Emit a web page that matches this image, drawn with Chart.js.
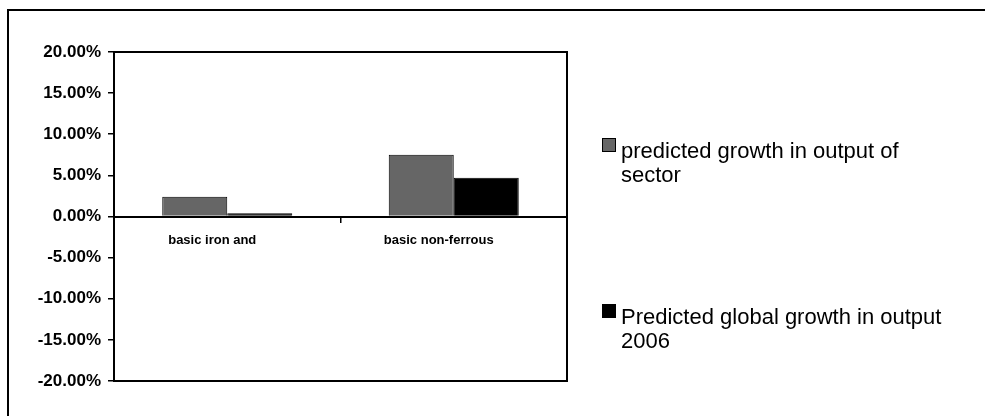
<!DOCTYPE html>
<html>
<head>
<meta charset="utf-8">
<script src="https://cdn.jsdelivr.net/npm/chart.js@4"></script>
<style>
  body { margin: 0; background: #fff; }
  canvas { display: block; }
</style>
</head>
<body>
<canvas id="growth-chart" width="985" height="416"></canvas>
<script>
const sectors = ['basic iron and', 'basic non-ferrous'];
const seriesNames = ['predicted growth in output of sector', 'Predicted global growth in output 2006'];
const sectorGrowth = [0.024, 0.075];
const globalGrowth = [0.004, 0.047];
const seriesColors = ['#666666', '#000000'];

const FONT = "'Liberation Sans', Arial, sans-serif";

// outer frame (only top and left edges show) plus the box round the plot
const framePlugin = {
  id: 'frame',
  beforeDraw(chart) {
    const ctx = chart.ctx;
    ctx.save();
    ctx.strokeStyle = '#000';
    ctx.lineWidth = 2;
    ctx.beginPath();
    ctx.moveTo(8, 416);
    ctx.lineTo(8, 10);
    ctx.lineTo(985, 10);
    ctx.stroke();
    ctx.restore();
  },
  afterDraw(chart) {
    const { left, top, right, bottom } = chart.chartArea;
    const ctx = chart.ctx;
    ctx.save();
    ctx.strokeStyle = '#000';
    ctx.lineWidth = 2;
    ctx.strokeRect(left, top, right - left, bottom - top);
    ctx.restore();
  }
};

// legend on the right, with wrapped labels
const sideLegend = {
  id: 'sideLegend',
  afterDraw(chart) {
    const ctx = chart.ctx;
    const boxX = 602, boxSize = 14, textX = 621, maxWidth = 330, lineH = 24;
    const tops = [138, 304];
    ctx.save();
    ctx.font = '22px ' + FONT;
    ctx.textBaseline = 'alphabetic';
    chart.data.datasets.forEach((ds, i) => {
      const y = tops[i];
      ctx.fillStyle = ds.backgroundColor;
      ctx.fillRect(boxX, y, boxSize, boxSize);
      ctx.strokeStyle = '#000';
      ctx.lineWidth = 1;
      ctx.strokeRect(boxX + 0.5, y + 0.5, boxSize - 1, boxSize - 1);

      const words = ds.label.split(' ');
      const lines = [];
      let line = '';
      words.forEach(w => {
        const test = line ? line + ' ' + w : w;
        if (ctx.measureText(test).width > maxWidth && line) {
          lines.push(line);
          line = w;
        } else {
          line = test;
        }
      });
      lines.push(line);
      ctx.fillStyle = '#000';
      lines.forEach((l, j) => ctx.fillText(l, textX, y + 20 + j * lineH));
    });
    ctx.restore();
  }
};

new Chart(document.getElementById('growth-chart').getContext('2d'), {
  type: 'bar',
  data: {
    labels: sectors,
    datasets: [
      {
        label: seriesNames[0],
        data: sectorGrowth,
        backgroundColor: seriesColors[0],
        borderColor: '#000',
        borderWidth: 1,
      },
      {
        label: seriesNames[1],
        data: globalGrowth,
        backgroundColor: seriesColors[1],
        borderColor: '#000',
        borderWidth: 1,
      },
    ],
  },
  options: {
    responsive: false,
    animation: false,
    devicePixelRatio: 1,
    layout: { padding: { top: 52, right: 418, bottom: 35, left: 0 } },
    datasets: {
      bar: { categoryPercentage: 0.574, barPercentage: 1 },
    },
    plugins: {
      legend: { display: false },
      tooltip: { enabled: false },
    },
    scales: {
      x: {
        position: { y: 0 },
        grid: { drawOnChartArea: false, drawTicks: true, tickLength: 5, color: '#000', lineWidth: 1.5 },
        border: { color: '#000', width: 2 },
        ticks: {
          color: '#000',
          labelOffset: -15,
          font: { family: FONT, size: 13, weight: 'bold', lineHeight: 2.5 },
        },
      },
      y: {
        min: -0.2,
        max: 0.2,
        afterFit(scale) { scale.width = 114; },
        grid: { drawOnChartArea: false, tickLength: 6, color: '#000', lineWidth: 1.5 },
        border: { color: '#000', width: 2 },
        ticks: {
          stepSize: 0.05,
          padding: 7,
          color: '#000',
          font: { family: FONT, size: 17, weight: 'bold' },
          callback: v => (v * 100).toFixed(2) + '%',
        },
      },
    },
  },
  plugins: [framePlugin, sideLegend],
});
</script>
</body>
</html>
